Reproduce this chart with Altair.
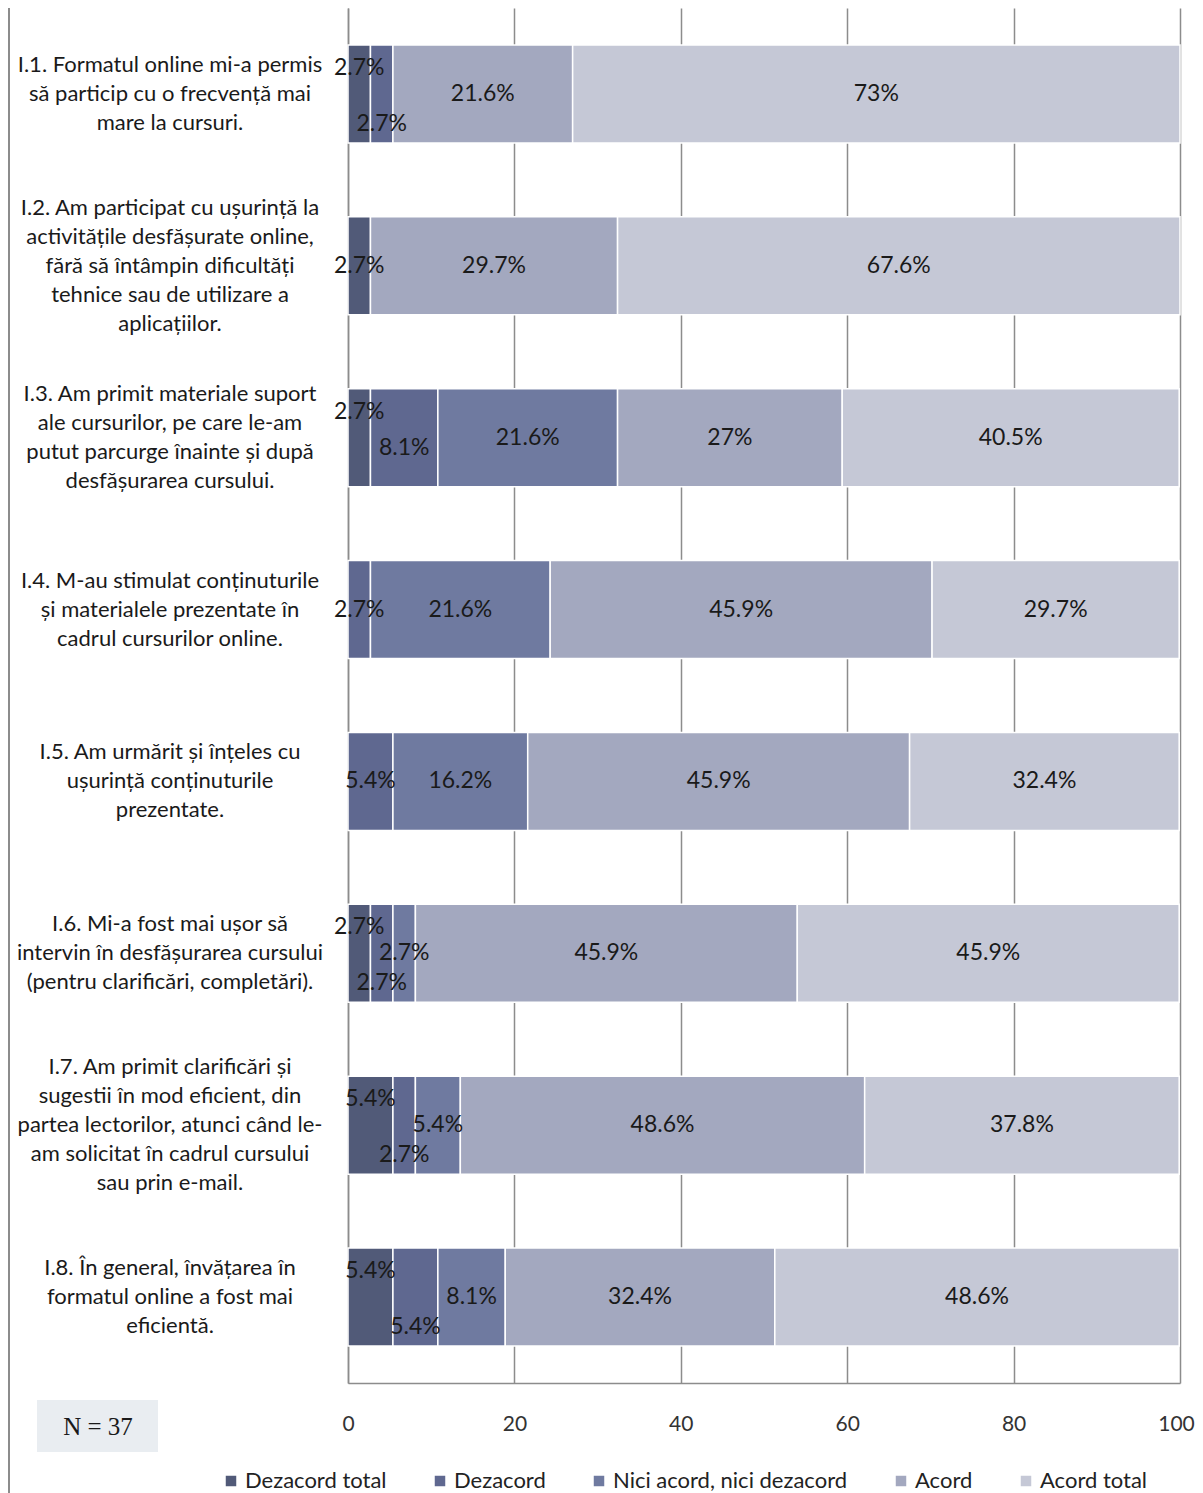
import altair as alt
import pandas as pd

items = [
    "I.1. Formatul online mi-a permis\nsă particip cu o frecvență mai\nmare la cursuri.",
    "I.2. Am participat cu ușurință la\nactivitățile desfășurate online,\nfără să întâmpin dificultăți\ntehnice sau de utilizare a\naplicațiilor.",
    "I.3. Am primit materiale suport\nale cursurilor, pe care le-am\nputut parcurge înainte și după\ndesfășurarea cursului.",
    "I.4. M-au stimulat conținuturile\nși materialele prezentate în\ncadrul cursurilor online.",
    "I.5. Am urmărit și înțeles cu\nușurință conținuturile\nprezentate.",
    "I.6. Mi-a fost mai ușor să\nintervin în desfășurarea cursului\n(pentru clarificări, completări).",
    "I.7. Am primit clarificări și\nsugestii în mod eficient, din\npartea lectorilor, atunci când le-\nam solicitat în cadrul cursului\nsau prin e-mail.",
    "I.8. În general, învățarea în\nformatul online a fost mai\neficientă.",
]
codes = ["I.1", "I.2", "I.3", "I.4", "I.5", "I.6", "I.7", "I.8"]
responses = ["Dezacord total", "Dezacord", "Nici acord, nici dezacord", "Acord", "Acord total"]

dezacord_total = [2.7, 2.7, 2.7, 0, 0, 2.7, 5.4, 5.4]
dezacord = [2.7, 0, 8.1, 2.7, 5.4, 2.7, 2.7, 5.4]
neutru = [0, 0, 21.6, 21.6, 16.2, 2.7, 5.4, 8.1]
acord = [21.6, 29.7, 27, 45.9, 45.9, 45.9, 48.6, 32.4]
acord_total = [73, 67.6, 40.5, 29.7, 32.4, 45.9, 37.8, 48.6]

colors = ["#515a78", "#5f6890", "#6f7aa0", "#a3a8bf", "#c5c8d6"]

series = [dezacord_total, dezacord, neutru, acord, acord_total]
rows = []
for i, code in enumerate(codes):
    vals = [s[i] for s in series]
    small = [k for k, v in enumerate(vals) if 0 < v < 10]
    pos = {}
    if len(small) >= 2:
        pos[small[0]] = "top"
        pos[small[1]] = "bottom" if vals[small[1]] < 6 else "low"
        for k in small[2:]:
            pos[k] = "mid"
    for k, v in enumerate(vals):
        rows.append({
            "code": code,
            "resp": responses[k],
            "ord": k,
            "v": v,
            "label": f"{v:g}%",
            "pos": pos.get(k, "mid"),
        })
df = pd.DataFrame(rows)

LINE_H = 29
line_rows = []
for code, txt in zip(codes, items):
    parts = txt.split("\n")
    n = len(parts)
    for j, t in enumerate(parts):
        line_rows.append({"code": code, "text": t, "off": (j - (n - 1) / 2)})
lines_df = pd.DataFrame(line_rows)

yenc = alt.Y("code:N", sort=codes,
             scale=alt.Scale(paddingInner=0.43, paddingOuter=0.215),
             axis=alt.Axis(labels=False, ticks=False, title=None, domain=True,
                           domainColor="#8c8c8c", domainWidth=1.5, grid=False))

base = alt.Chart(df).transform_filter("datum.v > 0").transform_stack(
    stack="v", groupby=["code"], as_=["x0", "x1"], sort=[alt.SortField("ord", "ascending")]
).transform_calculate(xm="(datum.x0 + datum.x1) / 2")

bars = base.mark_bar(stroke="white", strokeWidth=1.5).encode(
    x=alt.X("x0:Q", scale=alt.Scale(domain=[0, 100], nice=False),
            axis=alt.Axis(values=[0, 20, 40, 60, 80, 100], title=None, grid=True,
                          gridColor="#8c8c8c", gridWidth=1.5, ticks=False,
                          domainColor="#8c8c8c", domainWidth=1.5,
                          labelFontSize=21, labelFont="Lato", labelColor="#333333",
                          labelPadding=30, labelFlush=False,
                          labelOffset={"condition": {"test": "datum.value == 100", "value": -4},
                                       "value": 0})),
    x2="x1:Q",
    y=yenc,
    color=alt.Color("resp:N", sort=responses,
                    scale=alt.Scale(domain=responses, range=colors),
                    legend=alt.Legend(title=None, orient="none", direction="horizontal",
                                      columns=5, legendX=-128, legendY=1462,
                                      symbolType="square", symbolSize=110,
                                      symbolStrokeWidth=0,
                                      labelFont="Lato", labelFontSize=22,
                                      labelColor="#222222", columnPadding=42,
                                      labelOffset=3, labelLimit=400)),
)

offsets = {"top": -26, "bottom": 30, "low": 10, "mid": 0}
texts = []
for p, dy in offsets.items():
    texts.append(
        base.transform_filter(f"datum.pos == '{p}'").mark_text(
            dy=dy, fontSize=23, font="Lato", color="#1a1a1a", baseline="middle"
        ).encode(x="xm:Q", y=alt.Y("code:N", sort=codes), text="label:N")
    )

cat_layers = []
for off in sorted(lines_df["off"].unique()):
    cat_layers.append(
        alt.Chart(lines_df).transform_filter(f"datum.off == {off}").mark_text(
            align="center", baseline="middle", fontSize=22, font="Lato",
            color="#1a1a1a", dy=off * LINE_H
        ).encode(x=alt.value(-178), y=alt.Y("code:N", sort=codes), text="text:N")
    )

one = pd.DataFrame({"a": [0]})
nbox = alt.Chart(one).mark_rect(color="#e9edf1").encode(
    x=alt.value(-311), x2=alt.value(-190), y=alt.value(1392), y2=alt.value(1444))
ntext = alt.Chart(one).mark_text(
    font="Liberation Serif", fontSize=25, color="#1a1a1a", baseline="middle", align="center"
).encode(x=alt.value(-250), y=alt.value(1419), text=alt.value("N = 37"))
border = alt.Chart(one).mark_rule(color="#8c8c8c", strokeWidth=2).encode(
    x=alt.value(-339), y=alt.value(-8), y2=alt.value(1490))

chart = alt.layer(bars, *texts, *cat_layers, nbox, ntext, border).properties(
    width=832, height=1375,
    padding={"left": 340, "top": 0, "right": 15, "bottom": 110},
    autosize=alt.AutoSizeParams(type="none"),
).configure_view(stroke=None)

chart.save("out.html", embed_options={"renderer": "svg", "actions": False})
